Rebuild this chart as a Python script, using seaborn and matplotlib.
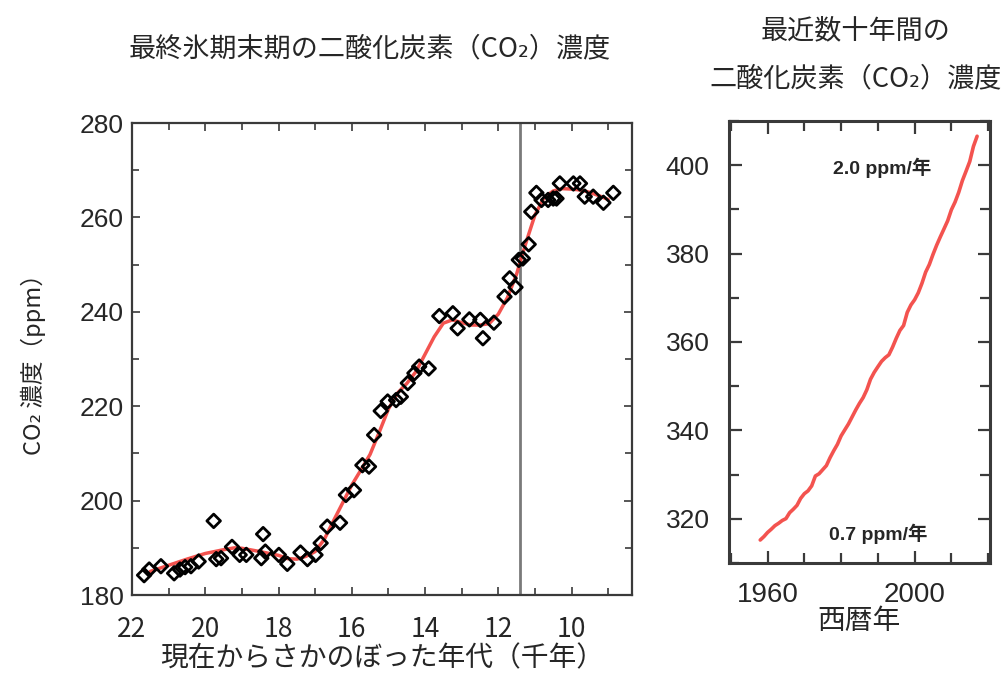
import numpy as np
import pandas as pd
import matplotlib
matplotlib.use("Agg")
import matplotlib.pyplot as plt
import seaborn as sns
from matplotlib.ticker import MultipleLocator, FixedLocator

# ---------------- data ----------------
# Ice-core samples (age in thousand years before present, CO2 ppm)
ice_age_kyr = [21.67, 21.53, 21.21, 20.85, 20.69, 20.55, 20.39, 20.18, 19.77, 19.70,
               19.57, 19.27, 19.06, 18.88, 18.42, 18.47, 18.36, 17.99, 17.76, 17.40,
               17.21, 16.99, 16.85, 16.67, 16.32, 16.16, 15.94, 15.71, 15.53, 15.39,
               15.21, 15.02, 14.79, 14.66, 14.47, 14.29, 14.16, 13.90, 13.61, 13.24,
               13.11, 12.79, 12.49, 12.42, 12.12, 11.83, 11.69, 11.53, 11.44, 11.33,
               11.17, 11.10, 10.96, 10.82, 10.64, 10.50, 10.41, 10.32, 9.95, 9.77,
               9.64, 9.41, 9.13, 8.86]
ice_co2 = [184.2, 185.4, 186.1, 184.6, 185.4, 185.9, 186.1, 187.1, 195.7, 187.6,
           187.8, 190.2, 188.5, 188.5, 192.9, 187.8, 189.2, 188.5, 186.6, 189.0,
           187.6, 188.5, 191.0, 194.5, 195.3, 201.2, 202.2, 207.5, 207.2, 213.9,
           219.0, 221.0, 221.3, 222.0, 224.9, 227.0, 228.4, 228.0, 239.1, 239.7,
           236.5, 238.4, 238.3, 234.4, 237.7, 243.2, 247.1, 245.2, 251.0, 251.3,
           254.3, 261.2, 265.2, 263.7, 263.7, 264.0, 264.0, 267.2, 267.2, 267.2,
           264.4, 264.4, 263.1, 265.2]

# Smoothed fit (red curve)
fit_age_kyr = [21.5, 21.0, 20.5, 20.0, 19.5, 19.2, 19.0, 18.5, 18.0, 17.75,
               17.5, 17.25, 17.0, 16.75, 16.5, 16.25, 16.0, 15.75, 15.5, 15.25,
               15.0, 14.75, 14.5, 14.25, 14.0, 13.75, 13.5, 13.25, 13.0, 12.75,
               12.5, 12.25, 12.0, 11.75, 11.5, 11.25, 11.0, 10.75, 10.5, 10.25,
               10.0, 9.75, 9.5, 9.25, 9.0]
fit_co2 = [185.0, 186.3, 187.6, 188.8, 189.6, 190.0, 189.9, 189.2, 188.4, 187.7,
           187.6, 188.2, 189.2, 191.8, 195.7, 199.5, 203.3, 206.5, 209.8, 214.5,
           219.4, 222.8, 224.8, 227.3, 231.0, 234.7, 237.6, 238.3, 237.7, 237.2,
           237.2, 237.5, 239.5, 243.0, 248.0, 254.5, 260.5, 264.2, 265.6, 266.1,
           266.0, 265.8, 265.3, 264.6, 263.8]

younger_dryas_end_kyr = 11.4

# Recent decades (Mauna Loa annual means)
years = list(range(1958, 2018))
ml_co2 = [315.2, 315.97, 316.91, 317.64, 318.45, 318.99, 319.62, 320.04, 321.38, 322.16,
          323.04, 324.62, 325.68, 326.32, 327.45, 329.68, 330.18, 331.11, 332.04, 333.83,
          335.40, 336.84, 338.75, 340.11, 341.45, 343.05, 344.65, 346.12, 347.42, 349.19,
          351.57, 353.12, 354.39, 355.61, 356.45, 357.10, 358.83, 360.82, 362.61, 363.73,
          366.70, 368.38, 369.55, 371.14, 373.28, 375.80, 377.52, 379.80, 381.90, 383.79,
          385.60, 387.43, 389.90, 391.65, 393.85, 396.52, 398.65, 400.83, 404.24, 406.55]

left_xticks = [22, 20, 18, 16, 14, 12, 10]
left_yticks = [180, 200, 220, 240, 260, 280]
right_xticks = [1960, 2000]
right_yticks = [320, 340, 360, 380, 400]

title_left = "最終氷期末期の二酸化炭素（CO₂）濃度"
title_right_1 = "最近数十年間の"
title_right_2 = "二酸化炭素（CO₂）濃度"
ylabel_left = "CO₂ 濃度（ppm）"
xlabel_left = "現在からさかのぼった年代（千年）"
xlabel_right = "西暦年"
rate_old = "0.7 ppm/年"
rate_new = "2.0 ppm/年"

# ---------------- style ----------------
sns.set_style("ticks")
CJK = ["Noto Sans CJK JP", "DejaVu Sans"]
plt.rcParams["font.family"] = CJK

RED = "#f2403c"
SPINE = "#3a3a3a"

fig = plt.figure(figsize=(10.03, 6.77), dpi=100)
ax1 = fig.add_axes([0.1316, 0.1211, 0.4985, 0.6972])
ax2 = fig.add_axes([0.7268, 0.1684, 0.2602, 0.6529])

# ---- left panel ----
ax1.axvline(younger_dryas_end_kyr, color="#7a7a7a", lw=2.0, zorder=1)
df_fit = pd.DataFrame({"age": fit_age_kyr, "co2": fit_co2})
sns.lineplot(data=df_fit, x="age", y="co2", ax=ax1, color=RED, lw=2.5,
             sort=False, estimator=None, zorder=2, alpha=0.9)
df_ice = pd.DataFrame({"age": ice_age_kyr, "co2": ice_co2})
sns.scatterplot(data=df_ice, x="age", y="co2", ax=ax1, marker="D", s=48,
                facecolor="none", edgecolor="black", linewidth=2.0, zorder=3)

ax1.set_xlim(22.0, 8.35)
ax1.set_ylim(180, 280)
ax1.xaxis.set_major_locator(FixedLocator(left_xticks))
ax1.xaxis.set_minor_locator(MultipleLocator(1))
ax1.yaxis.set_major_locator(FixedLocator(left_yticks))
ax1.yaxis.set_minor_locator(MultipleLocator(10))
ax1.set_xticklabels([str(v) for v in left_xticks])
ax1.set_yticklabels([str(v) for v in left_yticks])
ax1.set_xlabel(xlabel_left, fontsize=20, labelpad=0)
ax1.set_ylabel(ylabel_left, fontsize=17, labelpad=24,
               family=["Noto Sans CJK JP", "DejaVu Sans"])

# ---- right panel ----
df_ml = pd.DataFrame({"year": years, "co2": ml_co2})
sns.lineplot(data=df_ml, x="year", y="co2", ax=ax2, color=RED, lw=2.6,
             estimator=None, alpha=0.9)
ax2.set_xlim(1949.5, 2020.5)
ax2.set_ylim(310, 410)
ax2.xaxis.set_major_locator(FixedLocator(right_xticks))
ax2.xaxis.set_minor_locator(MultipleLocator(10))
ax2.yaxis.set_major_locator(FixedLocator(right_yticks))
ax2.yaxis.set_minor_locator(MultipleLocator(10))
ax2.set_xticklabels([str(v) for v in right_xticks])
ax2.set_yticklabels([str(v) for v in right_yticks])
ax2.set_xlabel(xlabel_right, fontsize=20, labelpad=-2)
ax2.set_ylabel("")
ax2.text(1991.3, 399.3, rate_new, ha="center", va="center", fontsize=14,
         fontweight="bold", family=["Liberation Sans", "Noto Sans CJK JP"])
ax2.text(1990.0, 316.6, rate_old, ha="center", va="center", fontsize=14,
         fontweight="bold", family=["Liberation Sans", "Noto Sans CJK JP"])

for ax in (ax1, ax2):
    for sp in ax.spines.values():
        sp.set_visible(True)
        sp.set_color(SPINE)
    ax.tick_params(which="both", direction="in", top=True, right=True,
                   color=SPINE)
    for lab in ax.get_yticklabels():
        lab.set_family(["Liberation Sans", "DejaVu Sans"])

for sp in ax1.spines.values():
    sp.set_linewidth(1.6)
for sp in ax2.spines.values():
    sp.set_linewidth(2.2)

ax1.tick_params(which="both", width=1.2)
ax1.tick_params(which="major", length=6)
ax1.tick_params(which="minor", length=5)
ax1.tick_params(axis="y", which="major", labelsize=19, pad=6)
ax1.tick_params(axis="x", which="major", labelsize=19, pad=15)

ax2.tick_params(which="both", width=1.6)
ax2.tick_params(which="major", length=9)
ax2.tick_params(which="minor", length=7)
ax2.tick_params(axis="y", which="major", labelsize=19, pad=14)
ax2.tick_params(axis="x", which="major", labelsize=20, pad=14)

for lab in ax1.get_xticklabels():
    lab.set_family(["Noto Sans CJK JP", "DejaVu Sans"])
for lab in ax2.get_xticklabels():
    lab.set_family(["Liberation Sans", "DejaVu Sans"])

fig.text(0.369, 0.928, title_left, ha="center", va="center", fontsize=19.5)
fig.text(0.853, 0.955, title_right_1, ha="center", va="center", fontsize=19.5)
fig.text(0.853, 0.884, title_right_2, ha="center", va="center", fontsize=19.5)

fig.savefig("out.png", dpi=100)
